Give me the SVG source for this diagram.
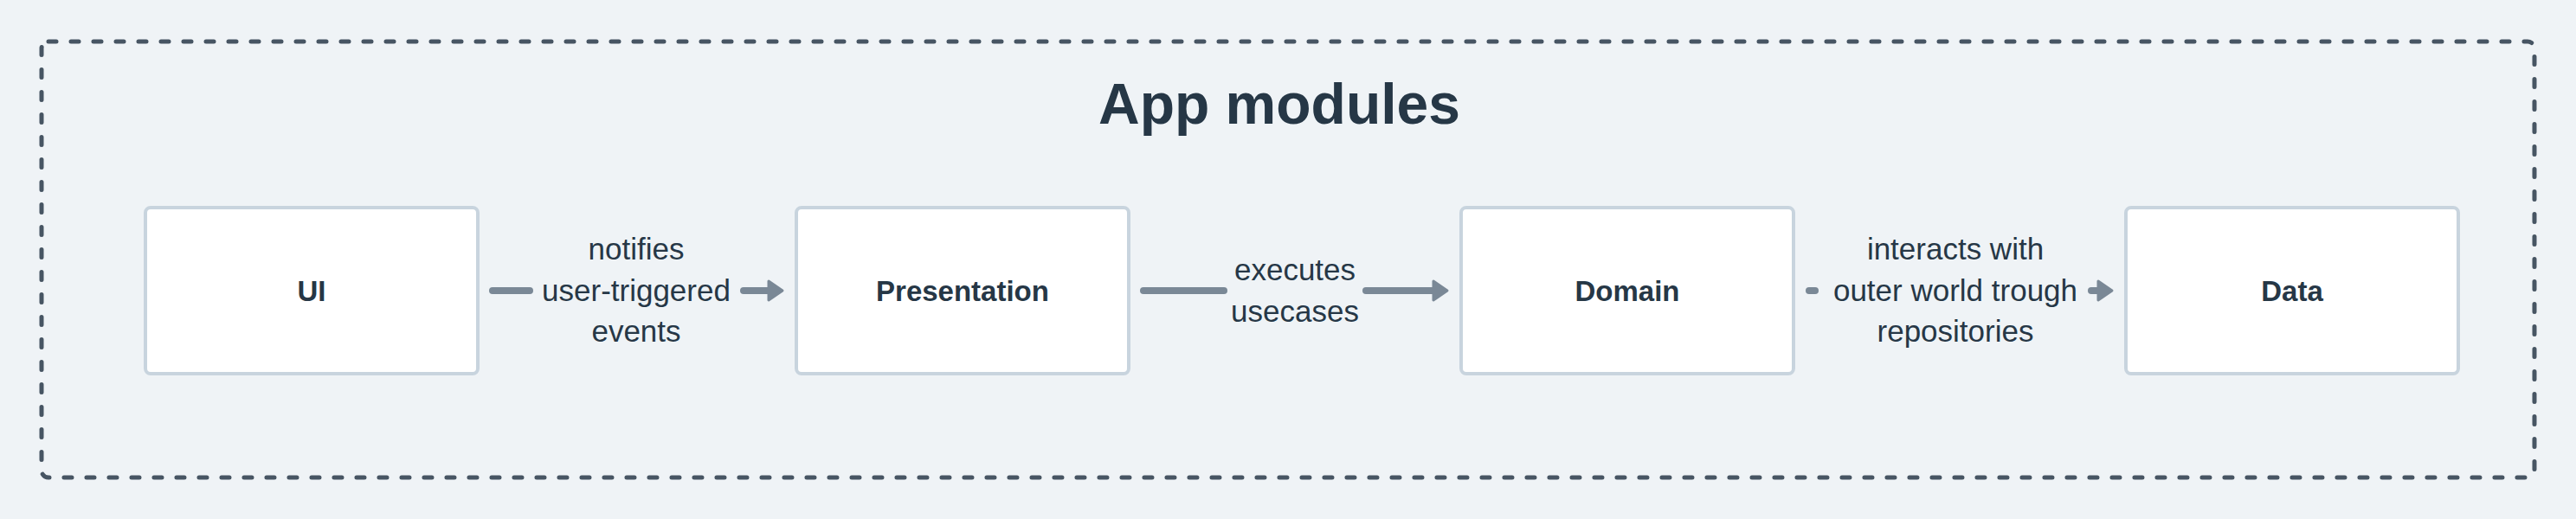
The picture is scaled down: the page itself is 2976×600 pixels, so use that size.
<svg xmlns="http://www.w3.org/2000/svg" width="2976" height="600" viewBox="0 0 2976 600">
  <style>
    .node rect { fill: #ffffff; stroke: #c8d4de; stroke-width: 4; }
    .node text { font-family: "Liberation Sans", Arial, sans-serif; font-weight: bold; font-size: 33px; fill: #263746; text-anchor: middle; }
    .lbl { font-family: "Liberation Sans", Arial, sans-serif; font-size: 35px; fill: #263746; text-anchor: middle; }
    .edge { fill: none; stroke: #7a8896; stroke-width: 8; stroke-linecap: round; }
    .title { font-family: "Liberation Sans", Arial, sans-serif; font-weight: bold; font-size: 66px; fill: #263746; text-anchor: middle; }
  </style>
  <defs>
    <marker id="arrow" markerUnits="userSpaceOnUse" viewBox="-2 -14 22 28" markerWidth="22" markerHeight="28" refX="0" refY="0" orient="auto" overflow="visible">
      <path d="M0,-11 L16,0 L0,11 Z" fill="#7a8896" stroke="#7a8896" stroke-width="3" stroke-linejoin="round"/>
    </marker>
  </defs>
  <rect x="0" y="0" width="2976" height="600" fill="#eff3f6"/>

  <g id="container">
    <rect x="48" y="48" width="2880" height="504" rx="8" fill="none" stroke="#475563" stroke-width="5" stroke-dasharray="9 17" stroke-linecap="round"/>
    <text class="title" x="1478" y="143">App modules</text>
  </g>

  <g id="connectors">
    <g id="edge-ui-presentation">
      <path class="edge" d="M569,336 H612"/>
      <path class="edge" d="M859,336 H888" marker-end="url(#arrow)"/>
      <text class="lbl" x="735" y="300">notifies</text>
      <text class="lbl" x="735" y="348">user-triggered</text>
      <text class="lbl" x="735" y="395">events</text>
    </g>
    <g id="edge-presentation-domain">
      <path class="edge" d="M1321,336 H1414"/>
      <path class="edge" d="M1578,336 H1656" marker-end="url(#arrow)"/>
      <text class="lbl" x="1496" y="324">executes</text>
      <text class="lbl" x="1496" y="372">usecases</text>
    </g>
    <g id="edge-domain-data">
      <path class="edge" d="M2090,336 H2097"/>
      <path class="edge" d="M2416,336 H2424" marker-end="url(#arrow)"/>
      <text class="lbl" x="2259" y="300">interacts with</text>
      <text class="lbl" x="2259" y="348">outer world trough</text>
      <text class="lbl" x="2259" y="395">repositories</text>
    </g>
  </g>

  <g id="node-ui" class="node">
    <rect x="168" y="240" width="384" height="192" rx="6"/>
    <text x="360" y="348">UI</text>
  </g>
  <g id="node-presentation" class="node">
    <rect x="920" y="240" width="384" height="192" rx="6"/>
    <text x="1112" y="348">Presentation</text>
  </g>
  <g id="node-domain" class="node">
    <rect x="1688" y="240" width="384" height="192" rx="6"/>
    <text x="1880" y="348">Domain</text>
  </g>
  <g id="node-data" class="node">
    <rect x="2456" y="240" width="384" height="192" rx="6"/>
    <text x="2648" y="348">Data</text>
  </g>
</svg>
